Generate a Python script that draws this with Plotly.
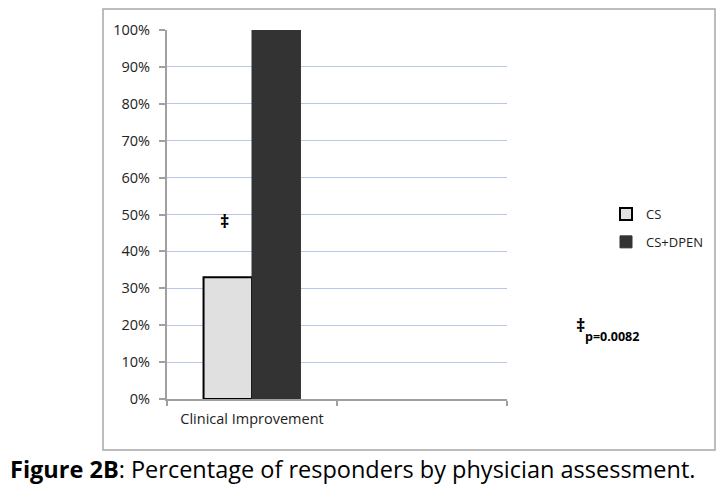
import plotly.graph_objects as go

categories = ["Clinical Improvement", " "]
series_names = ["CS", "CS+DPEN"]
cs_values = [0.33, None]
csdpen_values = [1.00, None]
y_ticks = [0, 0.1, 0.2, 0.3, 0.4, 0.5, 0.6, 0.7, 0.8, 0.9, 1.0]
caption_bold = "Figure 2B"
caption_rest = ": Percentage of responders by physician assessment."
p_text = "p=0.0082"
dagger = "‡"

OFF = 8  # default page body margin
W, H = 724 - 2 * OFF, 495 - 2 * OFF
FONT = "'Open Sans', Lato, sans-serif"

def px_x(x):
    return (x - OFF) / W

def px_y(y):
    return 1 - (y - OFF) / H

fig = go.Figure()
fig.add_trace(go.Bar(
    x=categories, y=cs_values, name=series_names[0],
    marker=dict(color="#e0e0e0", line=dict(color="#000000", width=2)),
    legendgroup="a",
))
fig.add_trace(go.Bar(
    x=categories, y=csdpen_values, name=series_names[1],
    marker=dict(color="#333333", line=dict(color="#333333", width=1)),
    legendgroup="b",
))

fig.update_layout(
    width=W, height=H,
    margin=dict(l=0, r=0, t=0, b=0),
    paper_bgcolor="white", plot_bgcolor="white",
    barmode="group", bargap=0.43, bargroupgap=0,
    font=dict(family=FONT, color="#222222", size=14.5),
    legend=dict(x=px_x(606), y=px_y(199), xanchor="left", yanchor="top",
                font=dict(size=13, family=FONT), tracegroupgap=8,
                bgcolor="rgba(0,0,0,0)", itemwidth=30),
    showlegend=True,
    xaxis=dict(domain=[px_x(167), px_x(507)], showline=True, linecolor="#a0a0a0",
               linewidth=2, ticks="outside", tickson="boundaries", ticklen=5,
               tickcolor="#a0a0a0", tickwidth=2, showgrid=False, automargin=False,
               ticklabelstandoff=6,
               tickfont=dict(size=14.5, family=FONT, color="#222222")),
    yaxis=dict(domain=[px_y(399), px_y(30)], range=[0, 1], tickvals=y_ticks,
               tickformat=".0%", showline=True, linecolor="#a0a0a0", linewidth=2,
               ticks="outside", ticklen=6, tickcolor="#a0a0a0", tickwidth=2,
               showgrid=True, gridcolor="#b7c7ea", gridwidth=1, zeroline=False,
               automargin=False, ticklabelstandoff=6,
               tickfont=dict(size=14.5, family=FONT, color="#222222")),
)

fig.add_shape(type="rect", xref="paper", yref="paper",
              x0=px_x(103), x1=px_x(715), y0=px_y(450), y1=px_y(9),
              line=dict(color="#a8a8a8", width=1.5), fillcolor="rgba(0,0,0,0)")

fig.add_annotation(xref="paper", yref="paper", x=px_x(225), y=px_y(221),
                   xanchor="center", yanchor="middle", text="<b>" + dagger + "</b>",
                   showarrow=False, font=dict(size=18, color="#000000", family=FONT))
fig.add_annotation(xref="paper", yref="paper", x=px_x(580), y=px_y(325),
                   xanchor="center", yanchor="middle", text="<b>" + dagger + "</b>",
                   showarrow=False, font=dict(size=18, color="#000000", family=FONT))
fig.add_annotation(xref="paper", yref="paper", x=px_x(583), y=px_y(336),
                   xanchor="left", yanchor="middle",
                   text="<b>" + p_text + "</b>",
                   showarrow=False, font=dict(size=12.5, color="#000000", family=FONT))

fig.add_annotation(xref="paper", yref="paper", x=px_x(8), y=px_y(469),
                   xanchor="left", yanchor="middle",
                   text="<b>" + caption_bold + "</b>" + caption_rest,
                   showarrow=False, font=dict(size=23.5, color="#000000", family=FONT))

fig.write_html("out.html")
